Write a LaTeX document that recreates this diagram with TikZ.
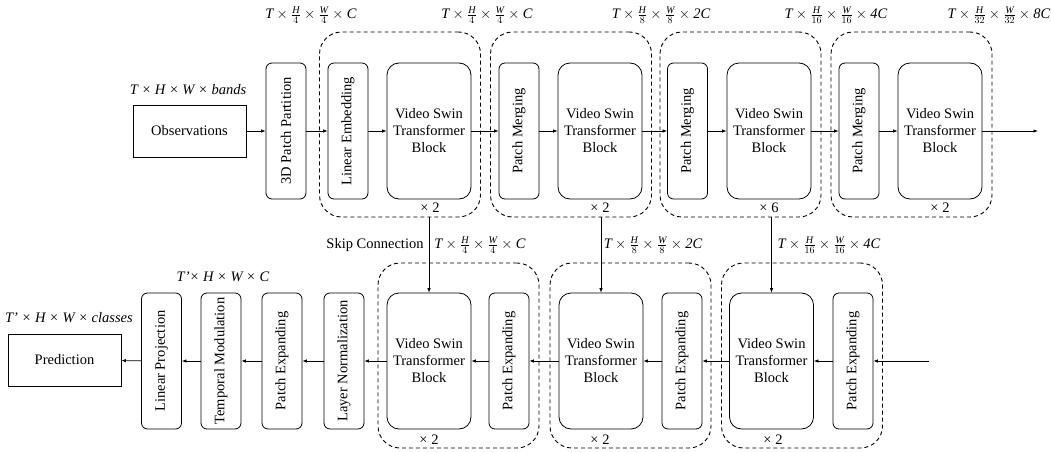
\documentclass[tikz,border=0pt]{standalone}
\usepackage{amsmath}
\usepackage{fontspec}
\setmainfont{Liberation Serif}
\usetikzlibrary{arrows.meta}

\newcommand{\tdim}[3]{$\mathit{T}\times\frac{\mathit{H}}{#1}\times\frac{\mathit{W}}{#1}\times\mathit{#2}$#3}

\tikzset{
  txt/.style={font=\fontsize{14.5}{17}\selectfont},
  blk/.style={txt, draw, line width=0.8pt, inner sep=0pt, align=center},
  slim/.style={blk, rounded corners=6pt, rotate=90, minimum width=136pt, minimum height=40pt},
  vst/.style={blk, rounded corners=12pt, minimum width=84pt, minimum height=136pt},
  io/.style={blk, minimum width=113pt, minimum height=52pt},
  grp/.style={draw, dash pattern=on 4pt off 3pt, rounded corners=22pt, line width=0.9pt,
              inner sep=0pt, minimum width=161pt, minimum height=185pt},
  flow/.style={-{Latex[length=4.5pt,width=3.5pt]}, line width=0.7pt},
  lbl/.style={txt, inner sep=0pt},
}

\begin{document}
\begin{tikzpicture}[x=1pt,y=-1pt]
\useasboundingbox (0,0) rectangle (1051,452);

% ---------- encoder ----------
\node[grp] (g1) at (400,124.5) {};
\node[grp] (g2) at (571,124.5) {};
\node[grp] (g3) at (740.5,124.5) {};
\node[grp] (g4) at (911.5,124.5) {};

\node[io]   (obs) at (189.5,131) {Observations};
\node[slim] (pp)  at (286,131)   {3D Patch Partition};
\node[slim] (le)  at (348,131)   {Linear Embedding};
\node[vst]  (e1)  at (429,131)   {Video Swin\\Transformer\\Block};
\node[slim] (pm1) at (519,131)   {Patch Merging};
\node[vst]  (e2)  at (600,131)   {Video Swin\\Transformer\\Block};
\node[slim] (pm2) at (687.5,131) {Patch Merging};
\node[vst]  (e3)  at (769,131)   {Video Swin\\Transformer\\Block};
\node[slim] (pm3) at (859,131)   {Patch Merging};
\node[vst]  (e4)  at (940,131)   {Video Swin\\Transformer\\Block};
\coordinate (out) at (1038,131);

\node[lbl] (d0) at (188,90) {\itshape T × H × W × bands};
\node[lbl] (d1) at (311,15)  {\tdim{4}{C}{}};
\node[lbl] (d2) at (487,15)  {\tdim{4}{C}{}};
\node[lbl] (d3) at (661,15)  {\tdim{8}{2C}{}};
\node[lbl] (d4) at (836,15)  {\tdim{16}{4C}{}};
\node[lbl] (d5) at (999,15)  {\tdim{32}{8C}{}};

\node[lbl] (r1) at (430,208) {× 2};
\node[lbl] (r2) at (600,208) {× 2};
\node[lbl] (r3) at (769,208) {× 6};
\node[lbl] (r4) at (940,208) {× 2};

\draw[flow] (obs) -- (pp);
\draw[flow] (pp) -- (le);
\draw[flow] (le) -- (e1);
\draw[flow] (e1) -- (pm1);
\draw[flow] (pm1) -- (e2);
\draw[flow] (e2) -- (pm2);
\draw[flow] (pm2) -- (e3);
\draw[flow] (e3) -- (pm3);
\draw[flow] (pm3) -- (e4);
\draw[flow] (e4) -- (out);

% ---------- decoder ----------
\node[grp] (h1) at (458.5,355.5) {};
\node[grp] (h2) at (630.5,355.5) {};
\node[grp] (h3) at (802,355.5) {};

\node[io]   (pred) at (64.5,360)  {Prediction};
\node[slim] (lp)   at (161.5,361) {Linear Projection};
\node[slim] (tm)   at (221,361)   {Temporal Modulation};
\node[slim] (pe)   at (282,361)   {Patch Expanding};
\node[slim] (ln)   at (344,361)   {Layer Normalization};
\node[vst]  (b1)   at (429,361)   {Video Swin\\Transformer\\Block};
\node[slim] (pe1)  at (509,361)   {Patch Expanding};
\node[vst]  (b2)   at (601,361)   {Video Swin\\Transformer\\Block};
\node[slim] (pe2)  at (682,361)   {Patch Expanding};
\node[vst]  (b3)   at (771.5,361) {Video Swin\\Transformer\\Block};
\node[slim] (pe3)  at (853,361)   {Patch Expanding};
\coordinate (in) at (929,361);

\node[lbl] (c0) at (69,318)  {\itshape T’ × H × W × classes};
\node[lbl] (c1) at (223,277) {\itshape T’× H × W × C};
\node[lbl] (c2) at (480,245) {\tdim{4}{C}{}};
\node[lbl] (c3) at (653,245) {\tdim{8}{2C}{}};
\node[lbl] (c4) at (829,245) {\tdim{16}{4C}{}};
\node[lbl] (sk) at (375,245) {Skip Connection};

\node[lbl] (s1) at (429,440) {× 2};
\node[lbl] (s2) at (600,440) {× 2};
\node[lbl] (s3) at (773,440) {× 2};

\draw[flow] (in) -- (pe3);
\draw[flow] (pe3) -- (b3);
\draw[flow] (b3) -- (pe2);
\draw[flow] (pe2) -- (b2);
\draw[flow] (b2) -- (pe1);
\draw[flow] (pe1) -- (b1);
\draw[flow] (b1) -- (ln);
\draw[flow] (ln) -- (pe);
\draw[flow] (pe) -- (tm);
\draw[flow] (tm) -- (lp);
\draw[flow] (lp) -- (pred);

% ---------- skip connections ----------
\draw[flow] (g1.south -| b1.north) -- (b1.north);
\draw[flow] (g2.south -| b2.north) -- (b2.north);
\draw[flow] (g3.south -| b3.north) -- (b3.north);
\end{tikzpicture}
\end{document}
